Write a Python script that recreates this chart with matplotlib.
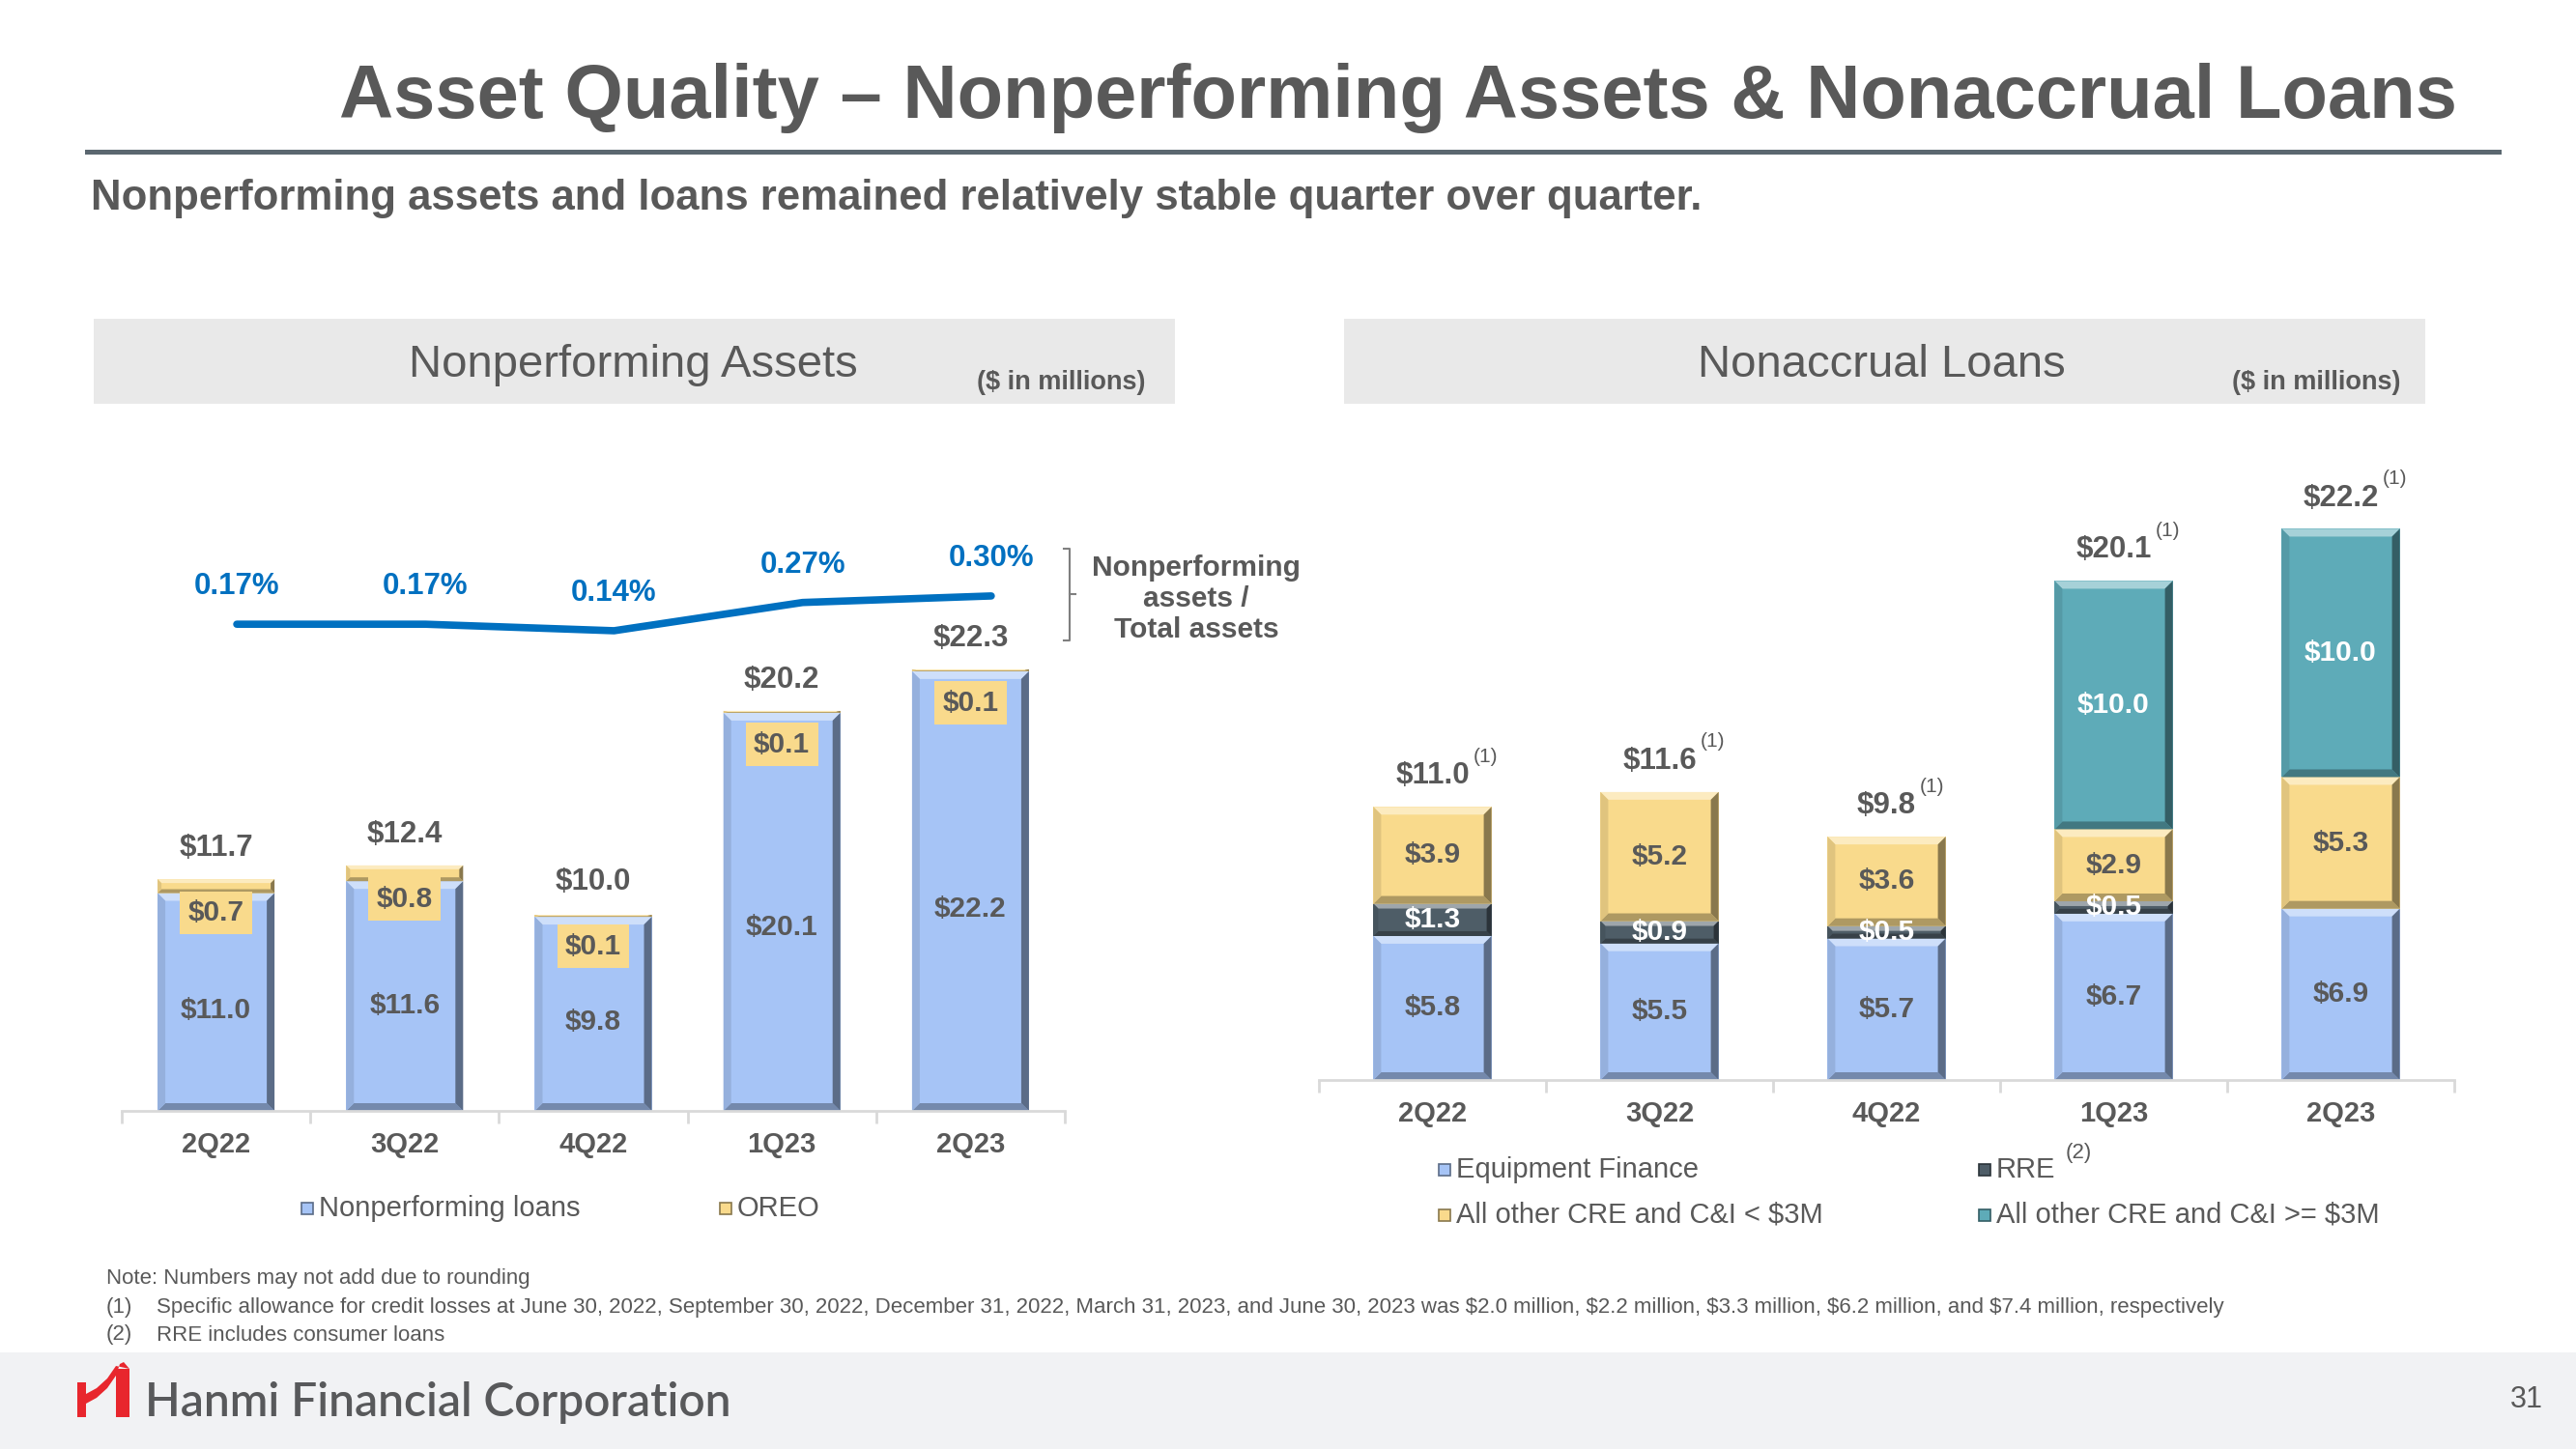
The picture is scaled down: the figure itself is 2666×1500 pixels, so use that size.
import numpy as np
import matplotlib
matplotlib.use('Agg')
import matplotlib.pyplot as plt
import matplotlib.colors as mcolors
from matplotlib.patches import Rectangle, Polygon
from matplotlib.lines import Line2D

plt.rcParams['font.family'] = ['Liberation Sans', 'DejaVu Sans']

# ---- data ----
quarters = ['2Q22', '3Q22', '4Q22', '1Q23', '2Q23']

# nonperforming assets ($ in millions)
npl = [11.0, 11.6, 9.8, 20.1, 22.2]
oreo = [0.7, 0.8, 0.1, 0.1, 0.1]
npa_total = [11.7, 12.4, 10.0, 20.2, 22.3]
npa_ratio = [0.17, 0.17, 0.14, 0.27, 0.30]   # % of total assets

# nonaccrual loans ($ in millions)
equip_fin = [5.8, 5.5, 5.7, 6.7, 6.9]
rre = [1.3, 0.9, 0.5, 0.5, 0.0]
cre_small = [3.9, 5.2, 3.6, 2.9, 5.3]
cre_large = [0.0, 0.0, 0.0, 10.0, 10.0]
nal_total = [11.0, 11.6, 9.8, 20.1, 22.2]

W, H = 2666, 1500
GRAY = '#595959'
BLUE = '#a6c4f6'
YELLOW = '#f9da8c'
SLATE = '#4e5d67'
TEAL = '#5eabb8'
LINE = '#0070c0'


def fx(x):
    return x / W


def fy(y):
    return 1 - y / H


def ax_rect(left, top, right, bottom):
    return [left / W, 1 - bottom / H, (right - left) / W, (bottom - top) / H]


def shade(c, f):
    r, g, b = mcolors.to_rgb(c)
    if f > 0:
        return (r + (1 - r) * f, g + (1 - g) * f, b + (1 - b) * f)
    return (r * (1 + f), g * (1 + f), b * (1 + f))


def bevel(ax, bars, color, size=8):
    # fake excel bevel: light top, dark bottom/right
    o = ax.transData.transform([(0, 0), (1, 1)])
    sx, sy = o[1] - o[0]
    for b in bars:
        x0, y0, w, h = b.get_x(), b.get_y(), b.get_width(), b.get_height()
        if h <= 0:
            continue
        dx = size / sx
        dy = min(size / sy, h / 2.5)
        x1, y1 = x0 + w, y0 + h
        polys = [
            ([(x0, y1), (x1, y1), (x1 - dx, y1 - dy), (x0 + dx, y1 - dy)], 0.45),
            ([(x0, y0), (x1, y0), (x1 - dx, y0 + dy), (x0 + dx, y0 + dy)], -0.3),
            ([(x1, y0), (x1, y1), (x1 - dx, y1 - dy), (x1 - dx, y0 + dy)], -0.45),
            ([(x0, y0), (x0, y1), (x0 + dx, y1 - dy), (x0 + dx, y0 + dy)], -0.1),
        ]
        for pts, f in polys:
            ax.add_patch(Polygon(pts, closed=True, fc=shade(color, f), ec='none', zorder=2.5))


def style_axis(ax):
    for s in ['top', 'left', 'right']:
        ax.spines[s].set_visible(False)
    ax.spines['bottom'].set_color('#d9d9d9')
    ax.spines['bottom'].set_linewidth(2)
    ax.set_yticks([])
    ax.set_xticks(range(len(quarters)))
    ax.set_xticklabels(quarters, fontsize=21, fontweight='bold', color=GRAY)
    ax.set_xticks(np.arange(-0.5, len(quarters)), minor=True)
    ax.tick_params(axis='x', which='major', length=0, pad=15)
    ax.tick_params(axis='x', which='minor', length=9, width=2, color='#d9d9d9')
    ax.patch.set_alpha(0)


def legend_item(x, y, color, label):
    fig.add_artist(Rectangle((fx(x - 6), fy(y + 6)), 12 / W, 12 / H, transform=fig.transFigure,
                             fc=color, ec=shade(color, -0.45), lw=1.2))
    return fig.text(fx(x + 12), fy(y), label, fontsize=21, color=GRAY, ha='left', va='center')


fig = plt.figure(figsize=(W / 100, H / 100), dpi=100)

# ---- header ----
fig.text(fx(1447), fy(102), 'Asset Quality \u2013 Nonperforming Assets & Nonaccrual Loans',
         fontsize=56, fontweight='bold', color=GRAY, ha='center', va='center')
fig.add_artist(Line2D([fx(90), fx(2586)], [fy(157), fy(157)], color='#5b6770', lw=3.6))
fig.text(fx(94), fy(205), 'Nonperforming assets and loans remained relatively stable quarter over quarter.',
         fontsize=31.5, fontweight='bold', color=GRAY, ha='left', va='center')

for left, right, title, tx, ux in [(97, 1216, 'Nonperforming Assets', 655, 1098),
                                   (1391, 2510, 'Nonaccrual Loans', 1947, 2397)]:
    fig.add_artist(Rectangle((fx(left), fy(418)), (right - left) / W, 88 / H,
                             transform=fig.transFigure, fc='#e9e9e9', ec='none', zorder=0))
    fig.text(fx(tx), fy(378), title, fontsize=34, color=GRAY, ha='center', va='center')
    fig.text(fx(ux), fy(396), '($ in millions)', fontsize=19.5, fontweight='bold',
             color=GRAY, ha='center', va='center')

x = np.arange(len(quarters))

# ---- left chart: nonperforming assets ----
ax1 = fig.add_axes(ax_rect(126, 560, 1102, 1150))
ax1.set_xlim(-0.5, 4.5)
ax1.set_ylim(0, 590 / 20.5)
bw1 = 0.62
b_npl = ax1.bar(x, npl, bw1, color=BLUE, zorder=2)
b_oreo = ax1.bar(x, oreo, bw1, bottom=npl, color=YELLOW, zorder=2)
bevel(ax1, b_npl, BLUE)
bevel(ax1, b_oreo, YELLOW, size=4)
style_axis(ax1)

for i in range(len(quarters)):
    ax1.annotate(f'${npa_total[i]:.1f}', (i, npa_total[i]), xytext=(0, 23), textcoords='offset points',
                 ha='center', va='center', fontsize=22.5, fontweight='bold', color=GRAY)
    ax1.annotate(f'${oreo[i]:.1f}', (i, npa_total[i]), xytext=(0, -25), textcoords='offset points',
                 ha='center', va='center', fontsize=21.5, fontweight='bold', color=GRAY, zorder=4,
                 bbox=dict(boxstyle='square,pad=0.28', fc=YELLOW, ec='none'))
    ax1.text(i, npl[i] * 0.46, f'${npl[i]:.1f}', ha='center', va='center', fontsize=21.5,
             fontweight='bold', color=GRAY, zorder=4)

ax1t = ax1.twinx()
ax1t.set_ylim(-2.069, 0.553)
ax1t.axis('off')
ax1t.plot(x + 0.11, npa_ratio, color=LINE, lw=5.5, solid_capstyle='round', solid_joinstyle='round')
for i, r in enumerate(npa_ratio):
    ax1t.annotate(f'{r:.2f}%', (i + 0.11, r), xytext=(0, 28), textcoords='offset points',
                  ha='center', va='center', fontsize=22.5, fontweight='bold', color=LINE)

# bracket + label for the ratio line
br = '#7f7f7f'
fig.add_artist(Line2D([fx(1101), fx(1107), fx(1107), fx(1101)], [fy(568), fy(568), fy(663), fy(663)],
                      color=br, lw=1.5))
fig.add_artist(Line2D([fx(1107), fx(1113)], [fy(615), fy(615)], color=br, lw=1.5))
fig.text(fx(1238), fy(620), 'Nonperforming\nassets /\nTotal assets', fontsize=21.5, fontweight='bold',
         color=GRAY, ha='center', va='center', multialignment='center', linespacing=1.2)

legend_item(318, 1251, BLUE, 'Nonperforming loans')
legend_item(751, 1251, YELLOW, 'OREO')

# ---- right chart: nonaccrual loans ----
ax2 = fig.add_axes(ax_rect(1365, 470, 2540, 1118))
ax2.set_xlim(-0.5, 4.5)
ax2.set_ylim(0, 648 / 25.7)
bw2 = 0.52
segments = [(equip_fin, BLUE, GRAY), (rre, SLATE, 'white'),
            (cre_small, YELLOW, GRAY), (cre_large, TEAL, 'white')]
bottom = np.zeros(len(quarters))
for vals, col, tcol in segments:
    bars = ax2.bar(x, vals, bw2, bottom=bottom, color=col, zorder=2)
    bevel(ax2, bars, col, size=8 if col != SLATE else 5)
    for i, v in enumerate(vals):
        if v > 0:
            ax2.text(i, bottom[i] + v / 2, f'${v:.1f}', ha='center', va='center', fontsize=21.5,
                     fontweight='bold', color=tcol, zorder=4)
    bottom = bottom + np.array(vals)
style_axis(ax2)

for i, t in enumerate(nal_total):
    lab = ax2.annotate(f'${t:.1f}', (i, t), xytext=(0, 23), textcoords='offset points',
                       ha='center', va='center', fontsize=22.5, fontweight='bold', color=GRAY)
    ax2.annotate('(1)', xy=(1, 0.85), xycoords=lab, xytext=(3, 0), textcoords='offset points',
                 ha='left', va='bottom', fontsize=15, color=GRAY)

legend_item(1495, 1211, BLUE, 'Equipment Finance')
legend_item(1495, 1258, YELLOW, 'All other CRE and C&I < $3M')
legend_item(2054, 1211, SLATE, 'RRE')
fig.text(fx(2151), fy(1194), '(2)', fontsize=16, color=GRAY, ha='center', va='center')
legend_item(2054, 1258, TEAL, 'All other CRE and C&I >= $3M')

# ---- footnotes ----
fig.text(fx(110), fy(1324), 'Note: Numbers may not add due to rounding', fontsize=16, color=GRAY,
         ha='left', va='center')
notes = [('(1)', 'Specific allowance for credit losses at June 30, 2022, September 30, 2022, December 31, 2022, '
                 'March 31, 2023, and June 30, 2023 was $2.0 million, $2.2 million, $3.3 million, $6.2 million, '
                 'and $7.4 million, respectively'),
         ('(2)', 'RRE includes consumer loans')]
for k, (num, txt) in enumerate(notes):
    yy = 1354 + k * 28
    fig.text(fx(110), fy(yy), num, fontsize=16, color=GRAY, ha='left', va='center')
    fig.text(fx(162), fy(yy), txt, fontsize=16, color=GRAY, ha='left', va='center')

# ---- footer ----
fig.add_artist(Rectangle((0, 0), 1, 100 / H, transform=fig.transFigure, fc='#f1f2f4', ec='none', zorder=0))
red = '#e8262d'
fig.add_artist(Rectangle((fx(80), fy(1467)), 9 / W, 36 / H, transform=fig.transFigure, fc=red, ec='none'))
fig.add_artist(Rectangle((fx(120), fy(1467)), 14 / W, 50 / H, transform=fig.transFigure, fc=red, ec='none'))
swoosh = [(89, 1453), (100, 1447), (111, 1437), (120, 1424), (124, 1412), (128, 1410), (134, 1417),
          (120, 1414), (111, 1427), (100, 1437), (89, 1443)]
fig.add_artist(Polygon([(fx(a), fy(b)) for a, b in swoosh], closed=True, transform=fig.transFigure,
                       fc=red, ec='none'))
fig.text(fx(150), fy(1452), 'Hanmi Financial Corporation', family=['Lato', 'DejaVu Sans'],
         fontsize=34.5, fontweight='semibold', color='#58595b', ha='left', va='center')
fig.text(fx(2615), fy(1449), '31', fontsize=22, color=GRAY, ha='center', va='center')

fig.savefig('out.png', dpi=100)
